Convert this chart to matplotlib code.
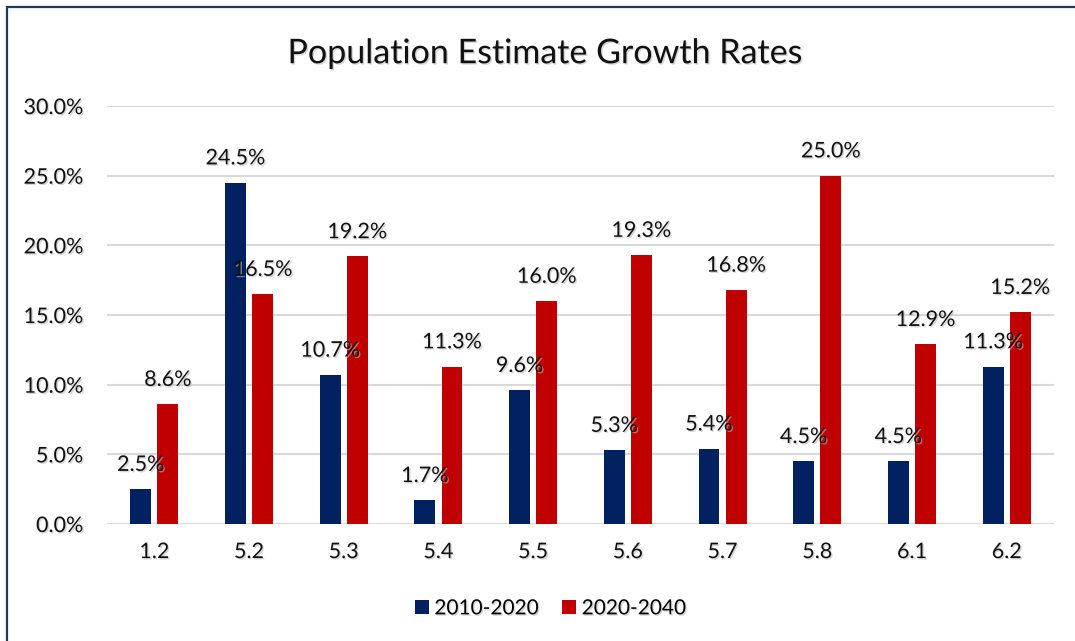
import matplotlib
matplotlib.use("Agg")
import matplotlib.pyplot as plt
import matplotlib.patheffects as pe
from matplotlib.patches import Rectangle
from matplotlib.ticker import PercentFormatter
import numpy as np

categories = ["1.2", "5.2", "5.3", "5.4", "5.5", "5.6", "5.7", "5.8", "6.1", "6.2"]
growth_2010_2020 = [2.5, 24.5, 10.7, 1.7, 9.6, 5.3, 5.4, 4.5, 4.5, 11.3]
growth_2020_2040 = [8.6, 16.5, 19.2, 11.3, 16.0, 19.3, 16.8, 25.0, 12.9, 15.2]
series_names = ["2010-2020", "2020-2040"]

blue = "#002060"
red = "#C00000"

plt.rcParams["font.family"] = ["Lato", "DejaVu Sans"]
shadow = [pe.SimplePatchShadow(offset=(1, -1), shadow_rgbFace="#bbbbbb", alpha=0.6), pe.Normal()]

fig = plt.figure(figsize=(10.75, 6.41), dpi=100)
ax = fig.add_axes([0.0995, 0.1825, 0.881, 0.6521])

x = np.arange(len(categories))
w = 0.22
off = 0.143
b1 = ax.bar(x - off, np.array(growth_2010_2020) / 100, w, color=blue, label=series_names[0], zorder=3)
b2 = ax.bar(x + off, np.array(growth_2020_2040) / 100, w, color=red, label=series_names[1], zorder=3)

for bars, vals in ((b1, growth_2010_2020), (b2, growth_2020_2040)):
    for r, v in zip(bars, vals):
        ax.annotate(f"{v:.1f}%", (r.get_x() + r.get_width() / 2, r.get_height()),
                    xytext=(0, 17.5), textcoords="offset points", ha="center", va="center",
                    fontsize=15.5, color="#111111", zorder=4, path_effects=shadow)

ax.set_xlim(-0.5, len(categories) - 0.5)
ax.set_ylim(0, 0.30)
ax.set_yticks(np.arange(0, 0.301, 0.05))
ax.yaxis.set_major_formatter(PercentFormatter(1.0, decimals=1))
ax.set_xticks(x)
ax.set_xticklabels(categories)
ax.tick_params(axis="both", length=0, labelsize=15.5, colors="#111111")
ax.tick_params(axis="y", pad=17)
ax.tick_params(axis="x", pad=13)
for t in ax.get_xticklabels() + ax.get_yticklabels():
    t.set_path_effects(shadow)
ax.grid(axis="y", color="#D9D9D9", linewidth=1.5, zorder=0)
for s in ax.spines.values():
    s.set_visible(False)

fig.text(0.507, 0.917, "Population Estimate Growth Rates", ha="center", va="center",
         fontsize=24.5, color="#111111", path_effects=shadow)

leg = fig.legend(handles=[b1, b2], loc="center", bbox_to_anchor=(0.512, 0.051), ncol=2,
                 frameon=False, fontsize=15, handlelength=0.7, handleheight=0.7,
                 handletextpad=0.25, columnspacing=1.1)
for t in leg.get_texts():
    t.set_path_effects(shadow)

fig.patches.append(Rectangle((7 / 1075, -0.1), 1.2, 1.1 - 7 / 641,
                             transform=fig.transFigure, fill=False,
                             edgecolor="#1F3864", linewidth=1.6))

fig.savefig("out.png", dpi=100)
